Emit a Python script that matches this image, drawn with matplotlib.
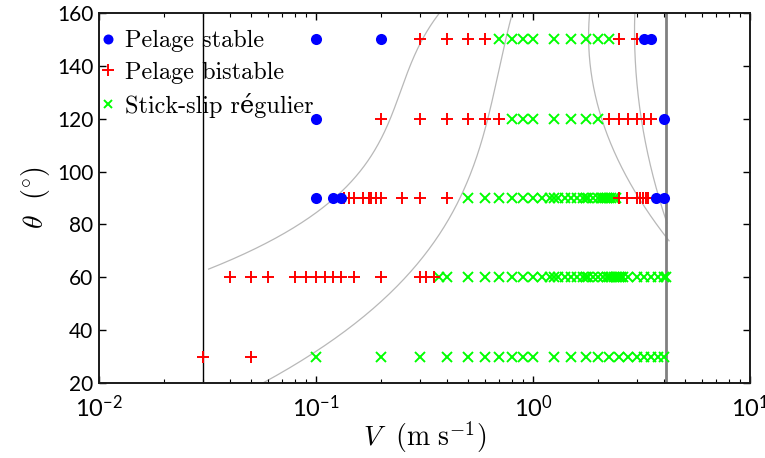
import matplotlib
matplotlib.use("Agg")
import numpy as np
import matplotlib.pyplot as plt
from matplotlib.ticker import LogLocator, NullFormatter, FixedLocator

plt.rcParams['mathtext.fontset'] = 'cm'
plt.rcParams['font.family'] = ['Lato', 'DejaVu Sans']
plt.rcParams['axes.unicode_minus'] = True

# ---------------- data (V in m/s, theta in degrees) ----------------
theta_rows = [150, 120, 90, 60, 30]

stable_150 = [0.1, 0.2, 3.25, 3.5]
bistable_150 = [0.3, 0.4, 0.5, 0.6, 2.5, 3.0]
stick_150 = [0.7, 0.8, 0.9, 1.0, 1.25, 1.5, 1.75, 2.0, 2.25]

stable_120 = [0.1, 4.0]
bistable_120 = [0.2, 0.3, 0.4, 0.5, 0.6, 0.7, 2.25, 2.5, 2.75, 3.0, 3.25, 3.5]
stick_120 = [0.8, 0.9, 1.0, 1.25, 1.5, 1.75, 2.0]

stable_90 = [0.1, 0.12, 0.13, 3.7, 4.0]
bistable_90 = [0.135, 0.142, 0.15, 0.165, 0.175, 0.18, 0.19, 0.2, 0.25, 0.3, 0.4,
               2.5, 2.7, 3.0, 3.1, 3.2, 3.3, 3.4]
stick_90 = [0.5, 0.6, 0.7, 0.8, 0.9, 1.0, 1.1, 1.2, 1.25, 1.3, 1.4, 1.5, 1.6, 1.7,
            1.75, 1.8, 1.9, 2.0, 2.05, 2.1, 2.15, 2.2, 2.25, 2.3, 2.35, 2.4]

stable_60 = []
bistable_60 = [0.04, 0.05, 0.06, 0.08, 0.09, 0.1, 0.11, 0.12, 0.13, 0.15, 0.2,
               0.3, 0.32, 0.35]
stick_60 = [0.37, 0.4, 0.5, 0.6, 0.7, 0.8, 0.9, 1.0, 1.1, 1.2, 1.25, 1.3, 1.4, 1.5,
            1.6, 1.7, 1.75, 1.8, 1.9, 2.0, 2.1, 2.2, 2.25, 2.3, 2.35, 2.4, 2.45,
            2.5, 2.55, 2.6, 2.75, 3.0, 3.25, 3.5, 3.75, 4.0, 4.1]

stable_30 = []
bistable_30 = [0.03, 0.05]
stick_30 = [0.1, 0.2, 0.3, 0.4, 0.5, 0.6, 0.7, 0.8, 0.9, 1.0, 1.25, 1.5, 1.75,
            2.0, 2.25, 2.5, 2.75, 3.0, 3.25, 3.5, 3.75, 4.0]

# limits of the explored velocity range
v_min_line = 0.03
v_max_line = 4.1

# boundary curves (V, theta)
curveA_V = [0.0301, 0.0535, 0.0759, 0.116, 0.151, 0.177, 0.212, 0.271, 0.365]
curveA_T = [63.1, 70.3, 76.8, 88.1, 99.8, 108.2, 116.5, 134.7, 160.0]
curveB_V = [0.0564, 0.1077, 0.2195, 0.2796, 0.328, 0.433, 0.570, 0.614, 0.80]
curveB_T = [20.0, 33.6, 53.3, 62.8, 70.3, 89.2, 108.2, 115.7, 160.0]
curveC_V = [1.832, 2.147, 2.265, 2.60, 3.02, 3.46, 4.1]
curveC_T = [160.0, 115.7, 108.2, 100.6, 93.0, 85.5, 73.8]
curveD_V = [2.95, 3.18, 3.36, 3.65, 3.93, 4.1]
curveD_T = [160.0, 115.7, 108.2, 96.8, 87.4, 80.5]

labels = ['Pelage stable', 'Pelage bistable', 'Stick-slip régulier']
xticks = [0.01, 0.1, 1, 10]
yticks = [20, 40, 60, 80, 100, 120, 140, 160]

# ---------------- figure ----------------
fig = plt.figure(figsize=(7.65, 4.58), dpi=100)
ax = fig.add_axes([99/765, 75/458, 651/765, 370/458])

# smooth the boundary curves (least-squares fit through the read points)
for cv, ct, deg in [(curveA_V, curveA_T, 3), (curveB_V, curveB_T, 3),
                    (curveC_V, curveC_T, 2), (curveD_V, curveD_T, 2)]:
    ct = np.asarray(ct)
    p = np.polyfit(ct, np.log10(cv), deg)
    tt = np.linspace(ct.min(), ct.max(), 200)
    ax.plot(10**np.polyval(p, tt), tt, color='0.72', lw=0.9, zorder=1)

ax.axvline(v_min_line, color='k', lw=1.0, zorder=1)
ax.axvline(v_max_line, color='0.5', lw=2.0, zorder=1)

stables = [stable_150, stable_120, stable_90, stable_60, stable_30]
bistables = [bistable_150, bistable_120, bistable_90, bistable_60, bistable_30]
sticks = [stick_150, stick_120, stick_90, stick_60, stick_30]

hs = hb = hk = None
for th, vs, vb, vk in zip(theta_rows, stables, bistables, sticks):
    l, = ax.plot(vk, [th]*len(vk), ls='none', marker='x', color=(0, 1, 0),
                 ms=7, mew=1.4, zorder=3)
    hk = l
    l, = ax.plot(vb, [th]*len(vb), ls='none', marker='+', color=(1, 0, 0),
                 ms=9, mew=1.4, zorder=4)
    hb = l
    if vs:
        l, = ax.plot(vs, [th]*len(vs), ls='none', marker='o', color=(0, 0, 1),
                     ms=8, mew=0, zorder=5)
        hs = l

ax.set_xscale('log')
ax.set_xlim(0.01, 10)
ax.set_ylim(20, 160)
ax.xaxis.set_major_locator(FixedLocator(xticks))
ax.xaxis.set_minor_locator(LogLocator(base=10, subs=range(2, 10)))
ax.xaxis.set_minor_formatter(NullFormatter())
ax.set_yticks(yticks)

ax.tick_params(which='both', direction='in', top=True, right=True, colors='k')
ax.tick_params(axis='y', labelsize=15, pad=4)
ax.tick_params(axis='x', labelsize=17, pad=8)
ax.tick_params(which='major', length=5, width=1.0)
ax.tick_params(which='minor', length=3, width=0.8)
for sp in ax.spines.values():
    sp.set_linewidth(1.4)
    sp.set_color('0.1')

ax.set_xlabel(r'$V\ \ (\mathrm{m\ s^{-1}})$', fontsize=20, labelpad=-1)
ax.set_ylabel(r'$\theta\ \ (^{\circ})$', fontsize=20, labelpad=4)

leg = ax.legend([hs, hb, hk], labels, loc='upper left',
                bbox_to_anchor=(-0.012, 0.98), frameon=False,
                prop={'family': ['cmr10', 'DejaVu Serif'], 'size': 17.5},
                handlelength=0.6, handletextpad=0.4, labelspacing=0.38,
                borderaxespad=0.0, markerscale=0.9)

fig.savefig('out.png', dpi=100)
